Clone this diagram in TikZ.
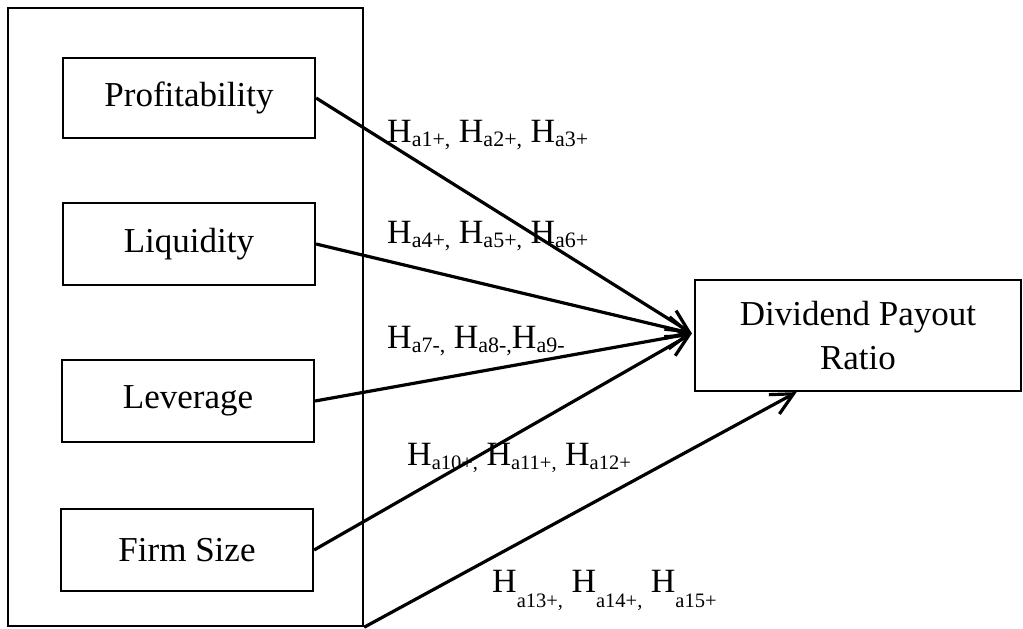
\documentclass[tikz,border=0pt]{standalone}
\usepackage{fontspec}
\setmainfont{Liberation Serif}
\usetikzlibrary{arrows.meta,calc}
\newcommand{\HS}[1]{H\raisebox{-4pt}{\fontsize{22}{26}\selectfont #1}}
\newcommand{\HT}[1]{H\raisebox{-4pt}{\fontsize{20.5}{24}\selectfont #1}}
\newcommand{\HL}[1]{H\raisebox{-15pt}{\fontsize{20.5}{24}\selectfont #1}}
\tikzset{
  varbox/.style={draw, line width=2.2pt, minimum width=252pt, minimum height=82pt, inner sep=0pt,
    font=\fontsize{35}{40}\selectfont},
  hyplabel/.style={anchor=base west, inner sep=0pt, font=\fontsize{34}{40}\selectfont},
  link/.style={line width=3.2pt, -{Straight Barb[length=22pt,width=22pt,line width=3.2pt]}},
}
\begin{document}
\begin{tikzpicture}[x=1pt,y=-1pt]
\useasboundingbox (0,0) rectangle (1023,629);
\node[draw, line width=2.4pt, minimum width=355pt, minimum height=618pt, inner sep=0pt] (outer) at (185.5,317) {};
\node[varbox, minimum height=80pt] (prof) at (189,98) {Profitability};
\node[varbox] (liq) at (189,244) {Liquidity};
\node[varbox] (lev) at (188,401) {Leverage};
\node[varbox] (firm) at (187,550) {Firm Size};
\node[draw, line width=2.2pt, minimum width=326pt, minimum height=111pt, inner sep=0pt, align=center,
  font=\fontsize{35}{44}\selectfont] (div) at (858,335.5) {Dividend Payout\\Ratio};
\coordinate (conv) at ($(div.west)+(-2,-2)$);
\coordinate (bot) at ($(div.south west)!0.313!(div.south east)$);
\draw[link] (prof.east) -- (conv);
\draw[link] (liq.east) -- (conv);
\draw[link] (lev.east) -- (conv);
\draw[link] (firm.east) -- (conv);
\draw[link] (outer.south east) -- (bot);
\node[hyplabel] (l1) at (387,142) {\HS{a1+,} \HS{a2+,} \HS{a3+}};
\node[hyplabel] (l2) at (387,243) {\HS{a4+,} \HS{a5+,} \HS{a6+}};
\node[hyplabel] (l3) at (387,348) {\HS{a7-,} \HS{a8-,}\HS{a9-}};
\node[hyplabel] (l4) at (407,465) {\HT{a10+,} \HT{a11+,} \HT{a12+}};
\node[hyplabel] (l5) at (492,592) {\HL{a13+,} \HL{a14+,} \HL{a15+}};
\end{tikzpicture}
\end{document}
